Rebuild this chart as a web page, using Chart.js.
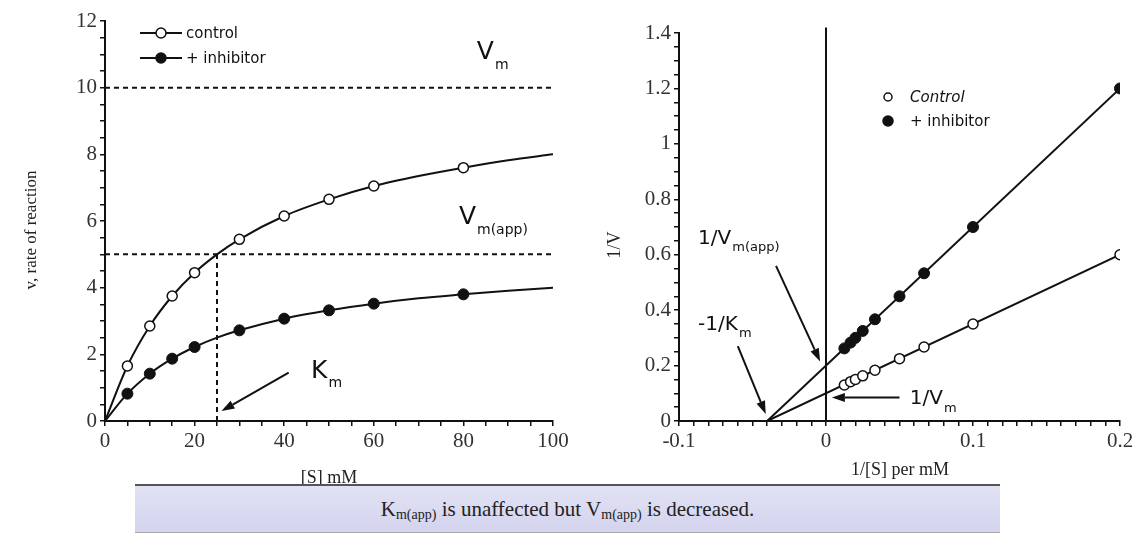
<!DOCTYPE html>
<html>
<head>
<meta charset="utf-8">
<script src="https://cdn.jsdelivr.net/npm/chart.js@4.4.1/dist/chart.umd.min.js"></script>
<style>
    body { margin: 0; background: #fff; width: 1138px; height: 552px; position: relative; overflow: hidden; }
    #mm { position: absolute; left: 0; top: 0; }
    #lb { position: absolute; left: 600px; top: 0; }
    .note {
        position: absolute; left: 135px; top: 484px; width: 865px; height: 49px;
        box-sizing: border-box; border-top: 2px solid #555; border-bottom: 1px solid #aaa;
        background: linear-gradient(#e2e2f5, #d3d3ee);
        font-family: "Liberation Serif", serif; font-size: 21px; color: #222;
        text-align: center; line-height: 47px;
    }
    .note sub { font-size: 14px; vertical-align: -3px; }
</style>
</head>
<body>
<canvas id="mm" width="580" height="490"></canvas>
<canvas id="lb" width="538" height="490"></canvas>
<div class="note">K<sub>m(app)</sub> is unaffected but V<sub>m(app)</sub> is decreased.</div>
<script>
// Michaelis-Menten plot (left)
const substrate = [5, 10, 15, 20, 30, 40, 50, 60, 80];
const vControl = [1.65, 2.85, 3.75, 4.45, 5.45, 6.15, 6.65, 7.05, 7.6];
const vInhibitor = [0.82, 1.42, 1.87, 2.22, 2.72, 3.07, 3.32, 3.52, 3.8];
// fitted curves
const fitS = [0, 5, 10, 15, 20, 25, 30, 40, 50, 60, 70, 80, 90, 100];
const fitControl = [0, 1.65, 2.85, 3.75, 4.45, 5.0, 5.45, 6.15, 6.65, 7.05, 7.35, 7.6, 7.82, 8.0];
const fitInhibitor = [0, 0.82, 1.42, 1.87, 2.22, 2.5, 2.72, 3.07, 3.32, 3.52, 3.68, 3.8, 3.91, 4.0];
const vmLine = [10, 10];
const vmAppLine = [5, 5];
const kmValue = 25;

// Lineweaver-Burk plot (right)
const invS = [0.0125, 0.0167, 0.02, 0.025, 0.0333, 0.05, 0.0667, 0.1, 0.2];
const invVControl = [0.13, 0.142, 0.15, 0.163, 0.183, 0.225, 0.267, 0.35, 0.6];
const invVInhibitor = [0.262, 0.283, 0.3, 0.325, 0.367, 0.45, 0.533, 0.7, 1.2];
const fitInvS = [-0.04, 0.2];
const fitInvControl = [0, 0.6];
const fitInvInhibitor = [0, 1.2];

const ink = '#111';
const serif = '"Liberation Serif", "Times New Roman", serif';
const sans = '"DejaVu Sans", sans-serif';

const pts = (xs, ys) => xs.map((x, i) => ({ x: x, y: ys[i] }));

// text with a subscript, left aligned at baseline
function subText(ctx, x, y, main, sub, size, subSize) {
    ctx.textAlign = 'left';
    ctx.textBaseline = 'alphabetic';
    ctx.font = `${size}px ${sans}`;
    ctx.fillText(main, x, y);
    const w = ctx.measureText(main).width;
    ctx.font = `${subSize}px ${sans}`;
    ctx.fillText(sub, x + w + 1, y + size * 0.38);
}

function arrow(ctx, x1, y1, x2, y2) {
    const a = Math.atan2(y2 - y1, x2 - x1);
    const len = 13, half = 4.5;
    const bx = x2 - len * Math.cos(a), by = y2 - len * Math.sin(a);
    ctx.lineWidth = 2;
    ctx.beginPath();
    ctx.moveTo(x1, y1);
    ctx.lineTo(bx, by);
    ctx.stroke();
    ctx.beginPath();
    ctx.moveTo(x2, y2);
    ctx.lineTo(bx + half * Math.sin(a), by - half * Math.cos(a));
    ctx.lineTo(bx - half * Math.sin(a), by + half * Math.cos(a));
    ctx.closePath();
    ctx.fill();
}

const axisTicks = (step, every, fmt) => ({
    stepSize: step,
    autoSkip: false,
    maxRotation: 0,
    color: '#333',
    padding: 3,
    font: { family: serif, size: 21 },
    callback: (v) => Math.abs(v / every - Math.round(v / every)) < 1e-6 ? fmt(v) : ''
});

const axisGrid = { drawOnChartArea: false, tickLength: 5, color: ink, lineWidth: 1.5 };
const axisBorder = { color: ink, width: 2 };

// annotations on the left chart
const leftNotes = {
    id: 'leftNotes',
    afterDraw(chart) {
        const { ctx, scales: { x, y } } = chart;
        ctx.save();
        ctx.fillStyle = ink;
        ctx.strokeStyle = ink;

        // legend
        [['control', '#fff'], ['+ inhibitor', ink]].forEach(([label, fill], i) => {
            const ly = 33 + i * 25;
            ctx.lineWidth = 2;
            ctx.beginPath();
            ctx.moveTo(140, ly);
            ctx.lineTo(182, ly);
            ctx.stroke();
            ctx.beginPath();
            ctx.arc(161, ly, 5, 0, Math.PI * 2);
            ctx.fillStyle = fill;
            ctx.fill();
            ctx.lineWidth = 1.5;
            ctx.stroke();
            ctx.fillStyle = ink;
            ctx.font = `15px ${sans}`;
            ctx.textAlign = 'left';
            ctx.textBaseline = 'middle';
            ctx.fillText(label, 186, ly + 1);
        });

        subText(ctx, x.getPixelForValue(83), y.getPixelForValue(10.85), 'V', 'm', 25, 14);
        subText(ctx, x.getPixelForValue(79), y.getPixelForValue(5.9), 'V', 'm(app)', 25, 14);
        subText(ctx, x.getPixelForValue(46), y.getPixelForValue(1.3), 'K', 'm', 25, 14);
        arrow(ctx, x.getPixelForValue(41), y.getPixelForValue(1.45), x.getPixelForValue(26), y.getPixelForValue(0.3));

        // axis titles
        ctx.font = `18px ${serif}`;
        ctx.fillStyle = '#222';
        ctx.textAlign = 'center';
        ctx.textBaseline = 'middle';
        ctx.fillText('[S] mM', 329, 478);
        ctx.translate(32, 230);
        ctx.rotate(-Math.PI / 2);
        ctx.font = `17px ${serif}`;
        ctx.fillText('v, rate of reaction', 0, 0);
        ctx.restore();
    }
};

new Chart(document.getElementById('mm'), {
    type: 'scatter',
    data: {
        datasets: [
            { data: pts(substrate, vControl), pointRadius: 5, pointBackgroundColor: '#fff', pointBorderColor: ink, pointBorderWidth: 1.5 },
            { data: pts(substrate, vInhibitor), pointRadius: 5.5, pointBackgroundColor: ink, pointBorderColor: ink },
            { data: pts(fitS, fitControl), showLine: true, pointRadius: 0, borderColor: ink, borderWidth: 2, cubicInterpolationMode: 'monotone' },
            { data: pts(fitS, fitInhibitor), showLine: true, pointRadius: 0, borderColor: ink, borderWidth: 2, cubicInterpolationMode: 'monotone' },
            { data: pts([0, 100], vmLine), showLine: true, pointRadius: 0, borderColor: ink, borderWidth: 2, borderDash: [5, 4] },
            { data: pts([0, 100], vmAppLine), showLine: true, pointRadius: 0, borderColor: ink, borderWidth: 2, borderDash: [5, 4] },
            { data: pts([kmValue, kmValue], [0, vmAppLine[0]]), showLine: true, pointRadius: 0, borderColor: ink, borderWidth: 2, borderDash: [5, 4] }
        ]
    },
    options: {
        responsive: false,
        animation: false,
        layout: { padding: { left: 0, top: 21, right: 27, bottom: 0 } },
        plugins: { legend: { display: false }, tooltip: { enabled: false } },
        scales: {
            x: {
                type: 'linear', min: 0, max: 100,
                afterFit: (s) => { s.height = 69; },
                border: axisBorder, grid: axisGrid,
                ticks: axisTicks(5, 20, (v) => v)
            },
            y: {
                min: 0, max: 12,
                afterFit: (s) => { s.width = 105; },
                border: axisBorder, grid: axisGrid,
                ticks: axisTicks(0.5, 2, (v) => v)
            }
        }
    },
    plugins: [leftNotes]
});

// annotations on the right chart
const rightNotes = {
    id: 'rightNotes',
    afterDraw(chart) {
        const { ctx, scales: { x, y } } = chart;
        ctx.save();
        ctx.fillStyle = ink;
        ctx.strokeStyle = ink;

        // legend
        [['Control', '#fff', 4], ['+ inhibitor', ink, 5]].forEach(([label, fill, r], i) => {
            const ly = 97 + i * 24;
            ctx.beginPath();
            ctx.arc(288, ly, r, 0, Math.PI * 2);
            ctx.fillStyle = fill;
            ctx.fill();
            ctx.lineWidth = 1.5;
            ctx.stroke();
            ctx.fillStyle = ink;
            ctx.font = (i === 0 ? 'italic ' : '') + `15px ${sans}`;
            ctx.textAlign = 'left';
            ctx.textBaseline = 'middle';
            ctx.fillText(label, 310, ly + 1);
        });

        subText(ctx, x.getPixelForValue(-0.087), y.getPixelForValue(0.64), '1/V', 'm(app)', 20, 13);
        arrow(ctx, x.getPixelForValue(-0.034), y.getPixelForValue(0.56), x.getPixelForValue(-0.004), y.getPixelForValue(0.215));
        subText(ctx, x.getPixelForValue(-0.087), y.getPixelForValue(0.33), '-1/K', 'm', 20, 13);
        arrow(ctx, x.getPixelForValue(-0.06), y.getPixelForValue(0.27), x.getPixelForValue(-0.041), y.getPixelForValue(0.025));
        subText(ctx, x.getPixelForValue(0.057), y.getPixelForValue(0.06), '1/V', 'm', 20, 13);
        arrow(ctx, x.getPixelForValue(0.05), y.getPixelForValue(0.085), x.getPixelForValue(0.004), y.getPixelForValue(0.085));

        // axis titles
        ctx.font = `18px ${serif}`;
        ctx.fillStyle = '#222';
        ctx.textAlign = 'center';
        ctx.textBaseline = 'middle';
        ctx.fillText('1/[S] per mM', 300, 470);
        ctx.translate(15, 245);
        ctx.rotate(-Math.PI / 2);
        ctx.fillText('1/V', 0, 0);
        ctx.restore();
    }
};

new Chart(document.getElementById('lb'), {
    type: 'scatter',
    data: {
        datasets: [
            { data: pts(invS, invVControl), pointRadius: 5, pointBackgroundColor: '#fff', pointBorderColor: ink, pointBorderWidth: 1.5 },
            { data: pts(invS, invVInhibitor), pointRadius: 5.5, pointBackgroundColor: ink, pointBorderColor: ink },
            { data: pts(fitInvS, fitInvControl), showLine: true, pointRadius: 0, borderColor: ink, borderWidth: 2 },
            { data: pts(fitInvS, fitInvInhibitor), showLine: true, pointRadius: 0, borderColor: ink, borderWidth: 2 },
            { data: pts([0, 0], [0, 1.42]), showLine: true, pointRadius: 0, borderColor: ink, borderWidth: 2, clip: false }
        ]
    },
    options: {
        responsive: false,
        animation: false,
        layout: { padding: { left: 0, top: 33, right: 18, bottom: 0 } },
        plugins: { legend: { display: false }, tooltip: { enabled: false } },
        scales: {
            x: {
                type: 'linear', min: -0.1, max: 0.2,
                afterFit: (s) => { s.height = 69; },
                border: axisBorder, grid: axisGrid,
                ticks: axisTicks(0.01, 0.1, (v) => +v.toFixed(1))
            },
            y: {
                min: 0, max: 1.4,
                afterFit: (s) => { s.width = 79; },
                border: axisBorder, grid: axisGrid,
                ticks: axisTicks(0.05, 0.2, (v) => +v.toFixed(1))
            }
        }
    },
    plugins: [rightNotes]
});
</script>
</body>
</html>
